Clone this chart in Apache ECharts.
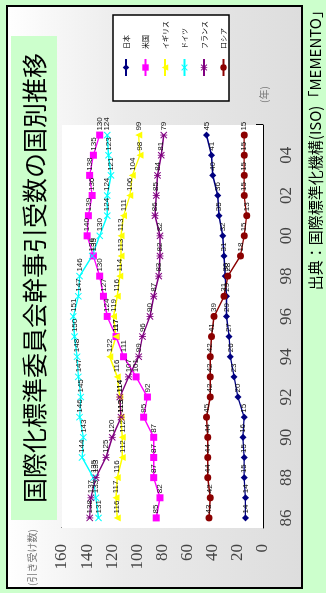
<!DOCTYPE html>
<html>
<head>
<meta charset="utf-8">
<script src="https://cdn.jsdelivr.net/npm/echarts@6/dist/echarts.min.js"></script>
<style>
  html, body { margin: 0; padding: 0; background: #ccffcc; width: 326px; height: 593px; overflow: hidden; }
  /* the chart is laid out landscape and turned a quarter turn counter-clockwise */
  #chart { position: absolute; left: 0; top: 593px; width: 593px; height: 326px;
           transform-origin: 0 0; transform: rotate(-90deg); }
</style>
</head>
<body>
<div id="chart"></div>
<script>
// years 1986 - 2005
const years = ['86','87','88','89','90','91','92','93','94','95',
               '96','97','98','99','00','01','02','03','04','05'];

const japan   = [14, 14, 15, 15, 16, 15, 20, 23, 26, 27, 29, 29, 30, 31, 32, 35, 36, 40, 41, 45];
const usa     = [85, 82, 87, 87, 87, 95, 92, 101, 111, 117, 124, 127, 130, 135, 140, 139, 136, 138, 135, 130];
const uk      = [116, 117, 116, 112, 112, 113, 114, 116, 122, 117, 119, 116, 114, 113, 113, 111, 106, 104, 98, 99];
const germany = [131, 133, 135, 144, 143, 146, 145, 147, 148, 150, 151, 147, 146, 136, 130, 124, 124, 121, 123, 124];
const france  = [138, 137, 133, 125, 120, 113, 114, 107, 99, 96, 90, 87, 83, 82, 82, 86, 85, 84, 81, 79];
const russia  = [43, 42, 44, 44, 44, 45, 42, 42, 42, 41, 39, 31, 28, 18, 15, 13, 15, 15, 15, 15];

const names = ['日本', '米国', 'イギリス', 'ドイツ', 'フランス', 'ロシア'];

const titleText  = '国際化標準委員会幹事引受数の国別推移';
const unitText   = '(引き受け数)';
const yearText   = '(年)';
const sourceText = '出典：国際標準化機構(ISO)「MEMENTO」';

const X_MARK = 'path://M0,1L1,0L5,4L9,0L10,1L6,5L10,9L9,10L5,6L1,10L0,9L4,5Z';
const STAR_MARK = 'path://M0,1L1,0L5,4L9,0L10,1L6,5L10,9L9,10L5,6L1,10L0,9L4,5Z M4.4,0L5.6,0L5.6,10L4.4,10Z';

const styles = [
  { color: '#000080', symbol: 'diamond',  size: 7 },
  { color: '#ff00ff', symbol: 'rect',     size: 7 },
  { color: '#ffff00', symbol: 'triangle', size: 7 },
  { color: '#00ffff', symbol: X_MARK,     size: 7 },
  { color: '#800080', symbol: STAR_MARK,  size: 7 },
  { color: '#8b0000', symbol: 'circle',   size: 7 }
];
const values = [japan, usa, uk, germany, france, russia];

const chart = echarts.init(document.getElementById('chart'), null, { renderer: 'canvas' });

const series = names.map((name, i) => ({
  name: name,
  type: 'line',
  data: values[i],
  symbol: styles[i].symbol,
  symbolSize: styles[i].size,
  showAllSymbol: true,
  lineStyle: { color: styles[i].color, width: 1.4 },
  itemStyle: { color: styles[i].color },
  label: {
    show: true, position: 'right', distance: 1,
    fontFamily: 'Liberation Sans', fontSize: 8, color: '#111'
  },
  emphasis: { disabled: true },
  animation: false,
  z: 3
}));

chart.setOption({
  animation: false,
  backgroundColor: '#ccffcc',
  grid: { left: 65, right: 125, top: 62, bottom: 63, show: true,
          backgroundColor: '#ffffff', borderWidth: 0, z: 1 },
  xAxis: {
    type: 'category', data: years, boundaryGap: true,
    axisLine: { lineStyle: { color: '#000', width: 1 } },
    axisTick: { show: true, inside: true, length: 7, interval: 0, lineStyle: { color: '#000' } },
    axisLabel: { interval: 1, margin: 15, fontFamily: 'Liberation Serif', fontSize: 17, color: '#444' },
    splitLine: { show: false }
  },
  yAxis: {
    type: 'value', min: 0, max: 160, interval: 20,
    axisLine: { show: true, lineStyle: { color: '#000', width: 1 } },
    axisTick: { show: true, inside: true, length: 5, lineStyle: { color: '#000' } },
    axisLabel: { margin: 16, fontFamily: 'Liberation Serif', fontSize: 17, color: '#444' },
    splitLine: { show: false }
  },
  legend: {
    data: names, orient: 'vertical', left: 511, top: 117,
    itemWidth: 17, itemHeight: 8, itemGap: 11.5,
    textStyle: { fontFamily: 'Noto Sans CJK JP', fontSize: 7, lineHeight: 8, color: '#000', padding: [0, 0, 0, 5] },
    selectedMode: false, z: 5
  },
  graphic: [
    { type: 'rect', z: -10, shape: { x: 5, y: 7, width: 582, height: 295 },
      style: { lineWidth: 2, stroke: '#000',
        fill: new echarts.graphic.LinearGradient(0, 0, 0, 1, [
          { offset: 0, color: '#ffffff' }, { offset: 0.4, color: '#ebebeb' }, { offset: 1, color: '#dddddd' }]) } },
    { type: 'rect', z: 2, shape: { x: 73, y: 11, width: 484, height: 46 }, style: { fill: '#ccffcc' } },
    { type: 'text', z: 3, x: 315, y: 34,
      style: { text: titleText, fontFamily: 'Noto Sans CJK JP', fontSize: 25, fill: '#000',
               textAlign: 'center', textVerticalAlign: 'middle' } },
    { type: 'rect', z: 2, shape: { x: 492, y: 113, width: 86, height: 116 },
      style: { fill: '#ffffff', stroke: '#000', lineWidth: 1.5 } },
    { type: 'text', z: 3, x: 7, y: 32,
      style: { text: unitText, fontFamily: 'Noto Sans CJK JP', fontSize: 10, fill: '#777',
               textAlign: 'left', textVerticalAlign: 'middle' } },
    { type: 'text', z: 3, x: 490, y: 264,
      style: { text: yearText, fontFamily: 'Noto Sans CJK JP', fontSize: 10, fill: '#777',
               textAlign: 'left', textVerticalAlign: 'middle' } },
    { type: 'text', z: 3, x: 590, y: 315,
      style: { text: sourceText, fontFamily: 'Noto Sans CJK JP', fontSize: 15, fill: '#000',
               textAlign: 'right', textVerticalAlign: 'middle' } }
  ],
  series: series
});
</script>
</body>
</html>
